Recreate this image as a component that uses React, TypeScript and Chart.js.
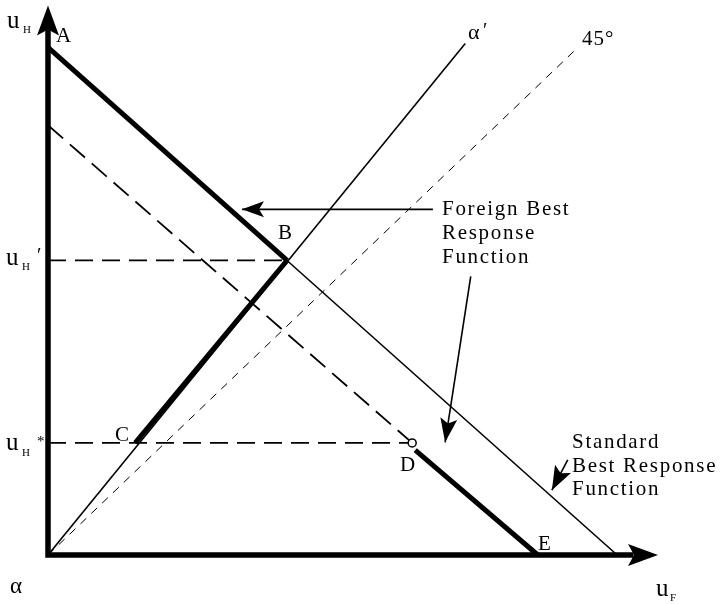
import React, { useEffect, useRef } from "react";
import { Chart, registerables } from "chart.js";

Chart.register(...registerables);

type P = { x: number; y: number };

// Axes (drawn up to the arrowheads)
const axesLine: P[] = [{ x: 0, y: 96 }, { x: 0, y: 0 }, { x: 96, y: 0 }];
const axisArrowTips: P[] = [{ x: 0, y: 100 }, { x: 100, y: 0 }];

// Standard best response function (thin), thick part A-B
const standardBR: P[] = [{ x: 0, y: 92.4 }, { x: 93.3, y: 0 }];
const thickAB: P[] = [{ x: 0, y: 92.4 }, { x: 39.2, y: 53.6 }];

// Shifted (dashed) response and thick D-E
const dashedShift: P[] = [{ x: 0, y: 78.2 }, { x: 59.7, y: 20.4 }];
const thickDE: P[] = [{ x: 60.2, y: 19.1 }, { x: 80.3, y: 0 }];

// alpha' ray and thick C-B
const alphaRay: P[] = [{ x: 0, y: 0 }, { x: 68.4, y: 93.1 }];
const thickCB: P[] = [{ x: 14.3, y: 20.4 }, { x: 39.2, y: 53.6 }];

// 45 degree line
const line45: P[] = [{ x: 0, y: 0 }, { x: 86.7, y: 92.2 }];

// Horizontal guides
const uHPrimeGuide: P[] = [{ x: 0, y: 53.6 }, { x: 39.2, y: 53.6 }];
const uHStarGuide: P[] = [{ x: 0, y: 20.4 }, { x: 59.7, y: 20.4 }];

// Open point D
const pointD: P[] = [{ x: 59.7, y: 20.4 }];

// Annotation arrows [from, to]
const foreignArrow: P[] = [{ x: 63.1, y: 62.9 }, { x: 31.8, y: 62.9 }];
const foreignDownArrow: P[] = [{ x: 69.3, y: 50.7 }, { x: 65.1, y: 20.5 }];
const standardArrow: P[] = [{ x: 85.2, y: 17.3 }, { x: 82.6, y: 11.8 }];

const foreignText: string[] = ["Foreign Best", "Response", "Function"];
const standardText: string[] = ["Standard", "Best Response", "Function"];

const SERIF = '"Liberation Serif", "Times New Roman", serif';

const line = (data: P[], width: number, dash: number[] = [], order = 5) => ({
  data,
  showLine: true,
  borderColor: "#000",
  backgroundColor: "#000",
  borderWidth: width,
  borderDash: dash,
  pointRadius: 0,
  pointHoverRadius: 0,
  fill: false,
  clip: false as const,
  borderCapStyle: "butt" as const,
  borderJoinStyle: "miter" as const,
  order,
});

const arrowPlugin = {
  id: "arrowsAndText",
  afterDatasetsDraw(chart: any) {
    const ctx: CanvasRenderingContext2D = chart.ctx;
    const xs = chart.scales.x;
    const ys = chart.scales.y;
    const px = (p: P) => ({ x: xs.getPixelForValue(p.x), y: ys.getPixelForValue(p.y) });

    const head = (from: P, to: P, len: number, half: number, notch: number) => {
      const a = px(from);
      const b = px(to);
      const dx = b.x - a.x;
      const dy = b.y - a.y;
      const d = Math.hypot(dx, dy) || 1;
      const ux = dx / d;
      const uy = dy / d;
      const nx = -uy;
      const ny = ux;
      const bx = b.x - ux * len;
      const by = b.y - uy * len;
      ctx.save();
      ctx.fillStyle = "#000";
      ctx.beginPath();
      ctx.moveTo(b.x, b.y);
      ctx.lineTo(bx + nx * half, by + ny * half);
      ctx.lineTo(b.x - ux * (len - notch), b.y - uy * (len - notch));
      ctx.lineTo(bx - nx * half, by - ny * half);
      ctx.closePath();
      ctx.fill();
      ctx.restore();
    };

    const origin = { x: 0, y: 0 };
    head(origin, axisArrowTips[0], 30, 11, 6);
    head(origin, axisArrowTips[1], 30, 11, 6);
    head(foreignArrow[0], foreignArrow[1], 22, 8, 5);
    head(foreignDownArrow[0], foreignDownArrow[1], 24, 8.5, 5);
    head(standardArrow[0], standardArrow[1], 24, 9, 5);

    // Text
    const txt = (s: string, x: number, y: number, size: number, spacing = 0) => {
      ctx.save();
      ctx.font = `${size}px ${SERIF}`;
      ctx.fillStyle = "#000";
      ctx.textAlign = "left";
      ctx.textBaseline = "alphabetic";
      (ctx as any).letterSpacing = `${spacing}px`;
      ctx.fillText(s, x, y);
      ctx.restore();
    };

    // point labels
    txt("A", 56, 42, 21);
    txt("B", 278, 239, 21);
    txt("C", 115, 441, 21);
    txt("D", 400, 471, 21);
    txt("E", 538, 550, 21);
    txt("α", 468, 39, 22);
    txt("′", 483, 37, 20);
    txt("45°", 582, 45, 21, 1);

    foreignText.forEach((s, i) => txt(s, 442, 215 + i * 24, 21, 1.7));
    standardText.forEach((s, i) => txt(s, 572, 448 + i * 23.5, 21, 1.7));

    // axis labels with subscripts
    txt("u", 7, 28, 25);
    txt("H", 23, 33, 11);
    txt("u", 6, 265, 25);
    txt("H", 22, 270, 11);
    txt("′", 37, 262, 20);
    txt("u", 6, 450, 25);
    txt("H", 22, 456, 11);
    txt("*", 37, 446, 15);
    txt("α", 10, 593, 23);
    txt("u", 656, 596, 25);
    txt("F", 670, 601, 11);
  },
};

export default function App() {
  const ref = useRef<HTMLCanvasElement | null>(null);

  useEffect(() => {
    if (!ref.current) return;
    const chart = new Chart(ref.current, {
      type: "scatter",
      data: {
        datasets: [
          {
            data: pointD,
            showLine: false,
            pointRadius: 4,
            pointHoverRadius: 4,
            pointBackgroundColor: "#fff",
            pointBorderColor: "#000",
            pointBorderWidth: 1.5,
            clip: false,
            order: 0,
          } as any,
          line(axesLine, 5.5, [], 1),
          line(thickAB, 5, [], 2),
          line(thickCB, 5, [], 2),
          line(thickDE, 5, [], 2),
          line(standardBR, 1.6, [], 3),
          line(alphaRay, 1.6, [], 3),
          line(foreignArrow, 1.6, [], 3),
          line(foreignDownArrow, 1.6, [], 3),
          line(standardArrow, 1.6, [], 3),
          line(dashedShift, 1.8, [20, 9], 4),
          line(uHPrimeGuide, 1.8, [18, 9], 4),
          line(uHStarGuide, 1.8, [18, 9], 4),
          line(line45, 1, [8, 7], 6),
        ],
      },
      options: {
        animation: false,
        responsive: false,
        events: [],
        layout: { padding: { left: 48, right: 66, top: 5, bottom: 49 } },
        plugins: { legend: { display: false }, tooltip: { enabled: false }, title: { display: false } },
        scales: {
          x: { type: "linear", min: 0, max: 100, display: false },
          y: { type: "linear", min: 0, max: 100, display: false },
        },
      },
      plugins: [arrowPlugin],
    });
    return () => chart.destroy();
  }, []);

  return (
    <div style={{ position: "fixed", left: 0, top: 0, width: 724, height: 604, background: "#fff" }}>
      <canvas ref={ref} width={724} height={604} style={{ display: "block" }} />
    </div>
  );
}
